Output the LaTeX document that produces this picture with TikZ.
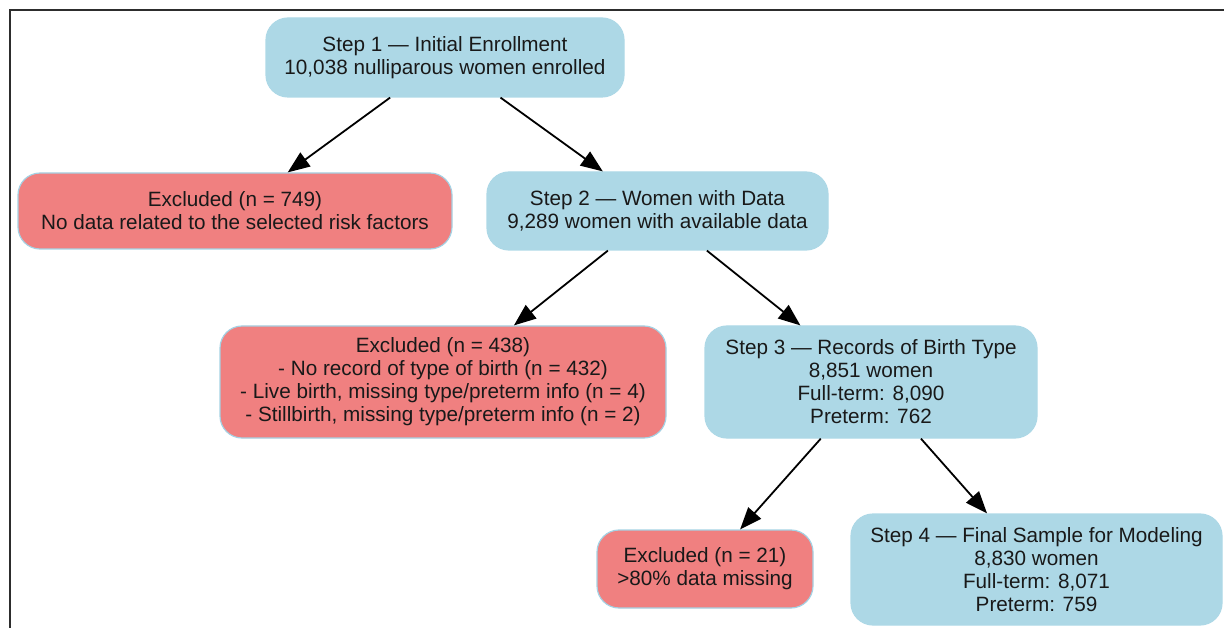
\documentclass[tikz,border=0pt]{standalone}
\usepackage{fontspec}
\setmainfont{Liberation Sans}
\usetikzlibrary{arrows.meta}

\definecolor{stepblue}{RGB}{173,216,230}
\definecolor{exclred}{RGB}{240,128,128}
\definecolor{edgeblue}{RGB}{165,210,228}
\definecolor{inkdark}{RGB}{25,25,25}
\definecolor{framegray}{RGB}{45,45,45}

\tikzset{
  box/.style={rectangle, rounded corners=22pt, align=center, inner sep=0pt,
    text=inkdark, line width=1.2pt,
    font=\fontsize{20.7pt}{23pt}\selectfont},
  stepbox/.style={box, fill=stepblue, draw=stepblue},
  exclbox/.style={box, fill=exclred, draw=edgeblue},
  flow/.style={draw=black, line width=1.8pt,
    -{Triangle[length=22pt, width=17pt]}},
}

\begin{document}
\begin{tikzpicture}[x=1pt, y=-1pt]
  \useasboundingbox (0,0) rectangle (1224,628);

  % frame edges
  \draw[framegray, line width=1.8pt] (10,628) -- (10,10) -- (1224,10);

  % steps and exclusions
  \node[stepbox, minimum width=358pt, minimum height=79pt] (s1) at (445,57.5)
    {Step 1 — Initial Enrollment\\10,038 nulliparous women enrolled};
  \node[exclbox, minimum width=434pt, minimum height=76pt] (e1) at (235,211)
    {Excluded (n = 749)\\No data related to the selected risk factors};
  \node[stepbox, minimum width=341pt, minimum height=78pt] (s2) at (657.5,211)
    {Step 2 — Women with Data\\9,289 women with available data};
  \node[exclbox, minimum width=446pt, minimum height=112pt] (e2) at (443,382)
    {Excluded (n = 438)\\- No record of type of birth (n = 432)\\- Live birth, missing type/preterm info (n = 4)\\- Stillbirth, missing type/preterm info (n = 2)};
  \node[stepbox, minimum width=332pt, minimum height=112pt] (s3) at (871,382)
    {Step 3 — Records of Birth Type\\8,851 women\\Full-term: 8,090\\Preterm: 762};
  \node[exclbox, minimum width=216pt, minimum height=78pt] (e3) at (705,569)
    {Excluded (n = 21)\\>80\% data missing};
  \node[stepbox, minimum width=371pt, minimum height=111pt] (s4) at (1036.5,569.5)
    {Step 4 — Final Sample for Modeling\\8,830 women\\Full-term: 8,071\\Preterm: 759};

  % connectors
  \draw[flow] (s1) -- (e1);
  \draw[flow] (s1) -- (s2);
  \draw[flow] (s2) -- (e2);
  \draw[flow] (s2) -- (s3);
  \draw[flow] (s3) -- (e3);
  \draw[flow] (s3) -- (s4);
\end{tikzpicture}
\end{document}
